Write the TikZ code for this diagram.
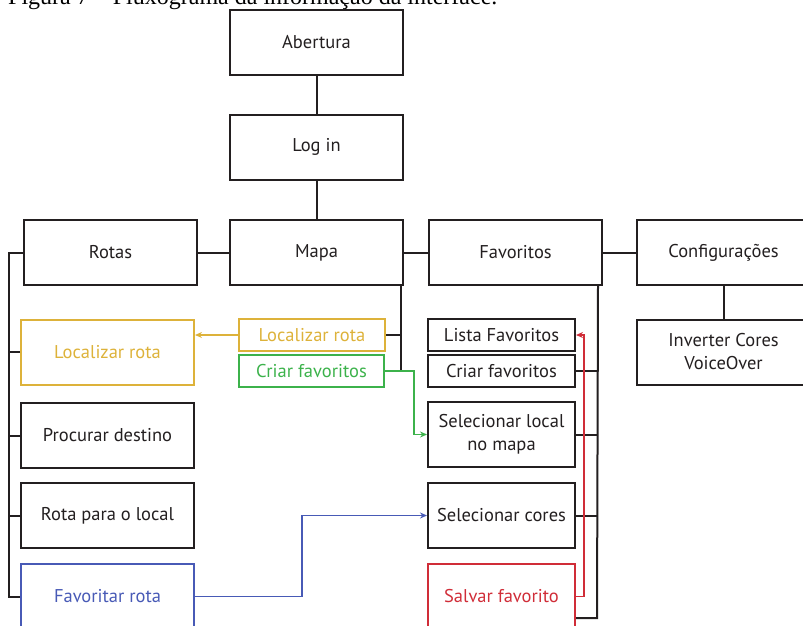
\documentclass[tikz,border=0pt]{standalone}
\usepackage{fontspec}
\setmainfont{PT Sans}
\newfontfamily\capfont{Liberation Serif}
\usetikzlibrary{arrows.meta,calc}
\definecolor{cyel}{RGB}{221,178,58}
\definecolor{cgrn}{RGB}{60,178,75}
\definecolor{cblu}{RGB}{72,90,182}
\definecolor{cred}{RGB}{208,45,56}
\definecolor{cblk}{RGB}{35,31,32}
\begin{document}
\begin{tikzpicture}[x=1pt,y=-1pt,
  box/.style={draw=cblk, line width=2pt, inner sep=0pt, align=center,
    font=\fontsize{18.5}{23}\selectfont, text=cblk},
  big/.style={box, minimum width=173pt, minimum height=65pt},
  small/.style={box, minimum width=147pt, minimum height=32pt},
  conn/.style={draw=cblk, line width=2pt},
  arr/.style={line width=1.6pt, -{Stealth[length=7pt,width=6pt]}}
]
\useasboundingbox (0,0) rectangle (803,626);
\node[anchor=base west, font=\capfont\fontsize{24}{28}\selectfont, inner sep=0pt] (cap) at (8,5) {Figura 7 – Fluxograma da informação da interface.};

\node[big] (ab) at (316.5,42.5) {Abertura};
\node[big] (li) at (316.5,147) {Log in};
\node[big] (rotas) at (110.5,252.5) {Rotas};
\node[big] (mapa) at (316.5,252.5) {Mapa};
\node[big] (fav) at (515.5,252.5) {Favoritos};
\node[big] (conf) at (723.5,252.5) {Configurações};
\node[big] (inv) at (723.5,352) {Inverter Cores\\VoiceOver};

\node[big, draw=cyel, text=cyel] (locbig) at (107.5,352) {Localizar rota};
\node[big] (proc) at (107.5,435.5) {Procurar destino};
\node[big] (rpl) at (107.5,515.5) {Rota para o local};
\node[big, draw=cblu, text=cblu] (favrota) at (107.5,596.5) {Favoritar rota};

\node[small, minimum width=146pt, draw=cyel, text=cyel] (locs) at (312,335) {Localizar rota};
\node[small, minimum width=145pt, draw=cgrn, text=cgrn] (cf) at (311.5,371) {Criar favoritos};

\node[small] (lista) at (501.5,335) {Lista Favoritos};
\node[small] (cf2) at (501.5,371) {Criar favoritos};
\node[big, minimum width=147pt] (sel) at (501.5,434.5) {Selecionar local\\no mapa};
\node[big, minimum width=147pt] (cores) at (501.5,515.5) {Selecionar cores};
\node[big, minimum width=147pt, draw=cred, text=cred] (salv) at (501.5,596.5) {Salvar favorito};

% main tree
\draw[conn] (ab.south) -- (li.north);
\draw[conn] (li.south) -- (mapa.north);
\draw[conn] (rotas.east) -- (mapa.west);
\draw[conn] (mapa.east) -- (fav.west);
\draw[conn] (fav.east) -- (conf.west);
\draw[conn] (conf.south) -- (inv.north);

% Rotas branch
\coordinate (rl) at (9,252.5);
\draw[conn] (rotas.west) -- (rl) -- (rl |- favrota.west) -- (favrota.west);
\draw[conn] (locbig.west) -- (locbig.west -| rl);
\draw[conn] (proc.west) -- (proc.west -| rl);
\draw[conn] (rpl.west) -- (rpl.west -| rl);

% Mapa branch
\coordinate (ml) at ($(mapa.south east)+(-3,0)$);
\draw[conn] (ml) |- (cf.east);
\draw[conn] (locs.east) -- (locs.east -| ml);

% Favoritos branch
\coordinate (fl) at ($(fav.south east)+(-5,0)$);
\coordinate (fend) at (597,618);
\draw[conn] (fl) -- (fend) -- (fend -| salv.east);
\draw[conn] ($(lista.north east)+(0,4)$) -- ($(lista.north east)+(0,4)$ -| fl);
\draw[conn] (cf2.east) -- (cf2.east -| fl);
\draw[conn] (sel.east) -- (sel.east -| fl);
\draw[conn] (cores.east) -- (cores.east -| fl);

% coloured arrows
\draw[arr, draw=cyel] (locs.west) -- (locs.west -| locbig.east);
\coordinate (gx) at (414,371);
\draw[arr, draw=cgrn] (cf.east) -- (gx) |- (sel.west);
\coordinate (bx) at (302,596.5);
\draw[arr, draw=cblu] (favrota.east) -- (bx) |- (cores.west);
\coordinate (rx) at (584,596.5);
\draw[arr, draw=cred] (salv.east) -- (rx) |- (lista.east);
\end{tikzpicture}
\end{document}
